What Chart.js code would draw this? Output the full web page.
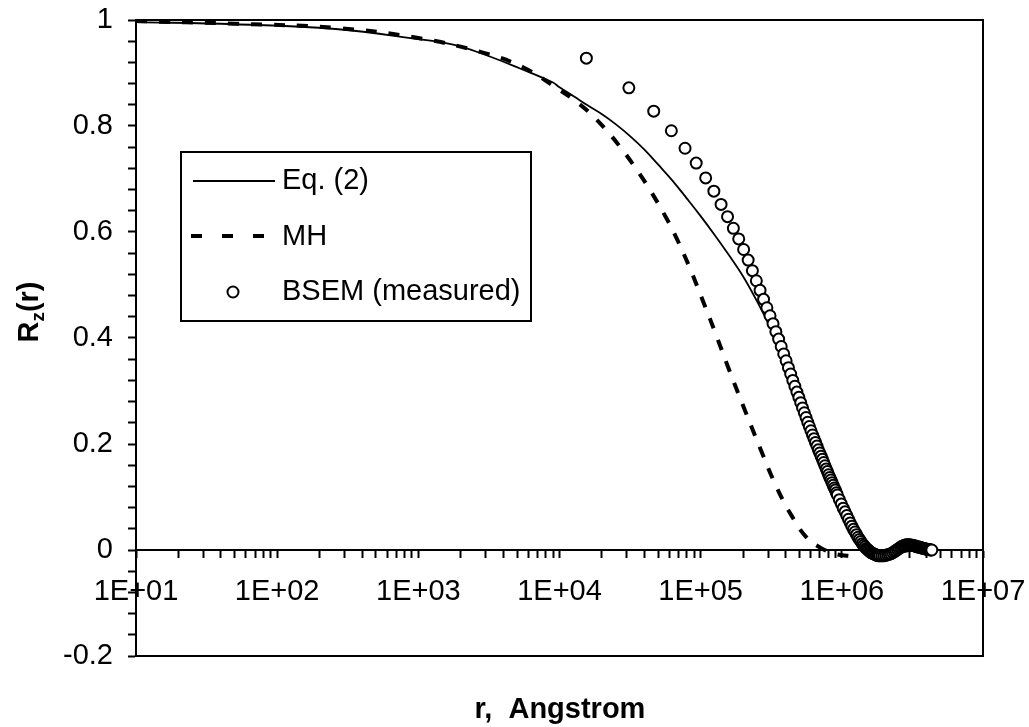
<!DOCTYPE html>
<html>
<head>
<meta charset="utf-8">
<script src="https://cdn.jsdelivr.net/npm/chart.js@4"></script>
<style>
  body { margin: 0; background: #fff; }
</style>
</head>
<body>
<canvas id="chart" width="1029" height="727"></canvas>
<script>
// Eq. (2) - solid line
const eqR = [10, 50, 260, 1000, 1800, 3000, 5200, 9000, 10000, 12600, 15800, 20000, 25100, 31600,
  39800, 50100, 63100, 79400, 100000, 126000, 158000, 200000, 251000, 316000, 398000, 501000,
  631000, 794000, 1000000, 1260000, 1580000, 2000000, 2510000, 3160000, 3980000, 4470000];
const eqVal = [0.996, 0.992, 0.983, 0.964, 0.953, 0.934, 0.909, 0.882, 0.873, 0.856, 0.839, 0.822, 0.803, 0.781,
  0.756, 0.727, 0.697, 0.664, 0.630, 0.594, 0.557, 0.516, 0.469, 0.416, 0.356, 0.291,
  0.224, 0.152, 0.080, 0.020, -0.006, -0.008, -0.006, -0.001, 0.001, 0.000];

// MH - dashed line
const mhR = [10, 50, 260, 1000, 3000, 5600, 10000, 13000, 16500, 21500, 26800, 33100, 43600, 57500,
  67600, 83200, 107000, 126000, 158000, 200000, 263000, 347000, 447000, 562000, 708000, 891000,
  1100000, 1250000];
const mhVal = [0.998, 0.993, 0.985, 0.966, 0.937, 0.910, 0.868, 0.847, 0.824, 0.792, 0.761, 0.728, 0.680, 0.625,
  0.588, 0.534, 0.461, 0.412, 0.342, 0.272, 0.193, 0.117, 0.062, 0.024, 0.004, -0.007,
  -0.011, -0.012];

// BSEM (measured) - circles
const bsemR = [
  15500, 31000, 46500, 62000, 77500, 93000, 108500, 124000, 139500, 155000,
  170500, 186000, 201500, 217000, 232500, 248000, 263500, 279000, 294500, 310000,
  325500, 341000, 356500, 372000, 387500, 403000, 418500, 434000, 449500, 465000,
  480500, 496000, 511500, 527000, 542500, 558000, 573500, 589000, 604500, 620000,
  635500, 651000, 666500, 682000, 697500, 713000, 728500, 744000, 759500, 775000,
  790500, 806000, 821500, 837000, 852500, 868000, 883500, 899000, 914500, 930000,
  961000, 992000, 1023000, 1054000, 1085000, 1116000, 1147000, 1178000, 1209000, 1240000,
  1271000, 1302000, 1333000, 1364000, 1395000, 1426000, 1457000, 1488000, 1519000, 1550000,
  1581000, 1612000, 1643000, 1674000, 1705000, 1736000, 1767000, 1798000, 1829000, 1860000,
  1922000, 1984000, 2046000, 2108000, 2170000, 2232000, 2294000, 2356000, 2418000, 2480000,
  2542000, 2604000, 2666000, 2728000, 2790000, 2852000, 2914000, 2976000, 3038000, 3100000,
  3162000, 3224000, 3286000, 3348000, 3410000, 3472000, 3534000, 3596000, 3658000, 3720000,
  3782000, 3844000, 3906000, 3968000, 4030000, 4092000, 4154000, 4216000, 4278000, 4340000
];
const bsemVal = [
  0.928, 0.872, 0.828, 0.791, 0.758, 0.730, 0.702, 0.677, 0.652, 0.629,
  0.607, 0.587, 0.567, 0.547, 0.527, 0.508, 0.490, 0.473, 0.457, 0.442,
  0.427, 0.412, 0.398, 0.384, 0.370, 0.357, 0.344, 0.332, 0.320, 0.309,
  0.298, 0.288, 0.278, 0.268, 0.259, 0.250, 0.241, 0.233, 0.225, 0.217,
  0.210, 0.203, 0.196, 0.189, 0.183, 0.177, 0.171, 0.165, 0.159, 0.153,
  0.148, 0.142, 0.137, 0.132, 0.127, 0.122, 0.117, 0.113, 0.108, 0.104,
  0.095, 0.087, 0.079, 0.072, 0.065, 0.058, 0.051, 0.045, 0.039, 0.034,
  0.029, 0.024, 0.020, 0.016, 0.012, 0.009, 0.006, 0.003, 0.001, -0.001,
  -0.003, -0.005, -0.006, -0.007, -0.008, -0.009, -0.010, -0.010, -0.011, -0.011,
  -0.011, -0.011, -0.010, -0.009, -0.008, -0.007, -0.005, -0.003, -0.001, 0.001,
  0.003, 0.005, 0.007, 0.008, 0.009, 0.010, 0.010, 0.010, 0.010, 0.009,
  0.009, 0.008, 0.008, 0.007, 0.006, 0.006, 0.005, 0.005, 0.004, 0.004,
  0.003, 0.003, 0.002, 0.002, 0.001, 0.001, 0.001, 0.000, 0.000, 0.000
];

// axes
const xMajor = [1e1, 1e2, 1e3, 1e4, 1e5, 1e6, 1e7];
const xTickLabels = ['1E+01', '1E+02', '1E+03', '1E+04', '1E+05', '1E+06', '1E+07'];
const yMajor = [-0.2, 0, 0.2, 0.4, 0.6, 0.8, 1];
const yTickLabels = ['-0.2', '0', '0.2', '0.4', '0.6', '0.8', '1'];

const FONT = "'Liberation Sans', Arial, sans-serif";

function toPoints(xs, ys) {
  return xs.map((x, i) => ({ x: x, y: ys[i] }));
}

// minor ticks: 2..9 within each decade, 5 steps within each 0.2 on y
const xTickValues = [];
xMajor.forEach((m, i) => {
  xTickValues.push(m);
  if (i < xMajor.length - 1) {
    for (let s = 2; s <= 9; s++) xTickValues.push(m * s);
  }
});
const yTickValues = [];
for (let i = 0; i <= 30; i++) {
  yTickValues.push(Math.round((-0.2 + 0.04 * i) * 100) / 100);
}

const framePlugin = {
  id: 'frame',
  beforeDatasetsDraw(chart) {
    const { ctx, chartArea: a } = chart;
    ctx.save();
    ctx.strokeStyle = '#000';
    ctx.lineWidth = 2;
    ctx.strokeRect(a.left, a.top, a.right - a.left, a.bottom - a.top);
    ctx.restore();
  }
};

const legendPlugin = {
  id: 'boxLegend',
  afterDatasetsDraw(chart) {
    const ctx = chart.ctx;
    ctx.save();
    ctx.fillStyle = '#fff';
    ctx.fillRect(181, 152, 350, 169);
    ctx.strokeStyle = '#000';
    ctx.lineWidth = 2;
    ctx.strokeRect(181, 152, 350, 169);

    // Eq. (2)
    ctx.lineWidth = 1.8;
    ctx.beginPath();
    ctx.moveTo(193, 181);
    ctx.lineTo(275, 181);
    ctx.stroke();
    // MH
    ctx.lineWidth = 4;
    ctx.setLineDash([11, 20]);
    ctx.beginPath();
    ctx.moveTo(191, 236);
    ctx.lineTo(265, 236);
    ctx.stroke();
    ctx.setLineDash([]);
    // BSEM
    ctx.lineWidth = 2;
    ctx.beginPath();
    ctx.arc(233, 292, 5.5, 0, Math.PI * 2);
    ctx.fillStyle = '#fff';
    ctx.fill();
    ctx.stroke();

    ctx.fillStyle = '#000';
    ctx.font = '29px ' + FONT;
    ctx.textBaseline = 'middle';
    ctx.textAlign = 'left';
    ctx.fillText('Eq. (2)', 282, 181);
    ctx.fillText('MH', 282, 237);
    ctx.fillText('BSEM (measured)', 282, 292);
    ctx.restore();
  }
};

const titlePlugin = {
  id: 'titles',
  afterDraw(chart) {
    const ctx = chart.ctx;
    ctx.save();
    ctx.fillStyle = '#000';
    // x title
    ctx.font = 'bold 29px ' + FONT;
    ctx.textAlign = 'center';
    ctx.textBaseline = 'alphabetic';
    ctx.fillText('r,  Angstrom', 560, 718);

    // y title with subscript
    ctx.translate(28, 312);
    ctx.rotate(-Math.PI / 2);
    const big = 'bold 29px ' + FONT;
    const small = 'bold 19px ' + FONT;
    ctx.font = big;
    const wR = ctx.measureText('R').width;
    const wP = ctx.measureText('(r)').width;
    ctx.font = small;
    const wZ = ctx.measureText('z').width;
    let x0 = -(wR + wZ + wP) / 2;
    ctx.textAlign = 'left';
    ctx.textBaseline = 'alphabetic';
    ctx.font = big;
    ctx.fillText('R', x0, 10);
    ctx.font = small;
    ctx.fillText('z', x0 + wR, 16);
    ctx.font = big;
    ctx.fillText('(r)', x0 + wR + wZ, 10);
    ctx.restore();
  }
};

const ctx = document.getElementById('chart').getContext('2d');
const chart = new Chart(ctx, {
  type: 'scatter',
  data: {
    datasets: [
      {
        label: 'BSEM (measured)',
        data: toPoints(bsemR, bsemVal),
        showLine: false,
        pointStyle: 'circle',
        pointRadius: 5.5,
        pointBorderWidth: 2,
        pointBorderColor: '#000',
        pointBackgroundColor: '#fff',
        order: 0
      },
      {
        label: 'Eq. (2)',
        data: toPoints(eqR, eqVal),
        showLine: true,
        borderColor: '#000',
        borderWidth: 1.8,
        pointRadius: 0,
        tension: 0.4,
        order: 1
      },
      {
        label: 'MH',
        data: toPoints(mhR, mhVal),
        showLine: true,
        borderColor: '#000',
        borderWidth: 4,
        borderDash: [11, 12],
        pointRadius: 0,
        tension: 0.4,
        order: 2
      }
    ]
  },
  options: {
    responsive: false,
    animation: false,
    layout: { padding: { left: 0, top: 20, right: 46, bottom: 71 } },
    plugins: {
      legend: { display: false },
      tooltip: { enabled: false }
    },
    scales: {
      x: {
        type: 'logarithmic',
        position: { y: 0 },
        min: 10,
        max: 1e7,
        afterBuildTicks(scale) {
          scale.ticks = xTickValues.map(v => ({ value: v }));
        },
        afterFit(scale) {
          scale.paddingLeft = 0;
          scale.paddingRight = 0;
          scale.paddingTop = 0;
          scale.paddingBottom = 0;
        },
        ticks: {
          autoSkip: false,
          maxRotation: 0,
          padding: 18,
          color: '#000',
          font: { size: 29, family: FONT },
          callback(value) {
            const i = xMajor.indexOf(value);
            return i >= 0 ? xTickLabels[i] : '';
          }
        },
        grid: {
          drawOnChartArea: false,
          drawTicks: true,
          tickLength: 7,
          tickWidth: 2,
          tickColor: '#000'
        },
        border: { display: true, color: '#000', width: 2 }
      },
      y: {
        type: 'linear',
        min: -0.2,
        max: 1,
        afterBuildTicks(scale) {
          scale.ticks = yTickValues.map(v => ({ value: v }));
        },
        afterFit(scale) {
          scale.width = 136;
          scale.paddingLeft = 0;
          scale.paddingRight = 0;
          scale.paddingTop = 0;
          scale.paddingBottom = 0;
        },
        ticks: {
          autoSkip: false,
          padding: 15,
          color: '#000',
          font: { size: 29, family: FONT },
          callback(value) {
            for (let i = 0; i < yMajor.length; i++) {
              if (Math.abs(yMajor[i] - value) < 1e-6) return yTickLabels[i];
            }
            return '';
          }
        },
        grid: {
          drawOnChartArea: false,
          drawTicks: true,
          tickLength: 8,
          tickWidth: 2,
          tickColor: '#000'
        },
        border: { display: true, color: '#000', width: 2 }
      }
    }
  },
  plugins: [framePlugin, legendPlugin, titlePlugin]
});
</script>
</body>
</html>
